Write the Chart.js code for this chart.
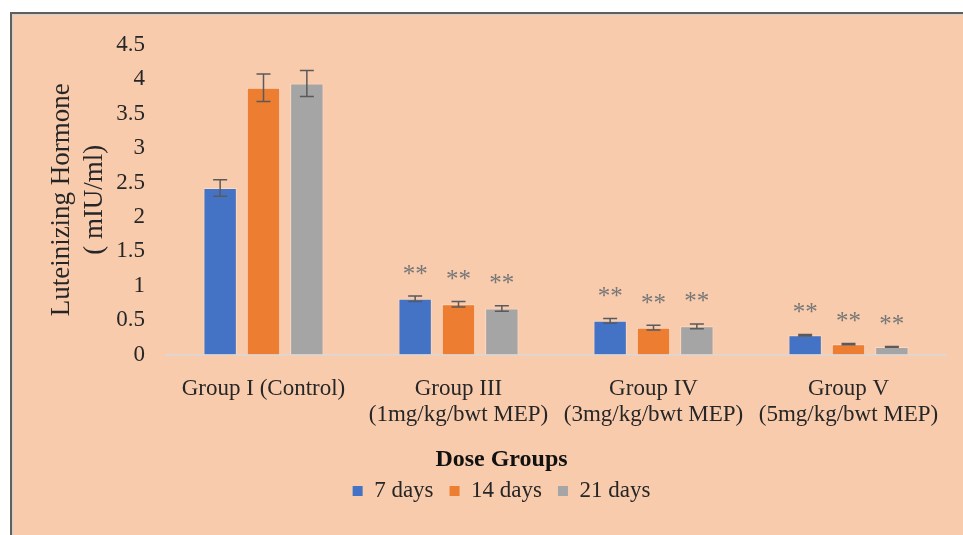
<!DOCTYPE html>
<html>
<head>
<meta charset="utf-8">
<script src="https://cdn.jsdelivr.net/npm/chart.js@4.4.1/dist/chart.umd.min.js"></script>
<style>
  html, body { margin: 0; padding: 0; background: #ffffff; overflow: hidden; width: 963px; height: 535px; }
  #frame {
    position: absolute; left: 10px; top: 12px; width: 1000px; height: 600px;
    background: #F8CBAD;
    border-left: 2px solid #5f5f5f; border-top: 2px solid #5f5f5f;
    box-shadow: inset 1px 1px 0 #cfcfcf;
  }
  #c { position: absolute; left: 0; top: 0; }
</style>
</head>
<body>
<div id="frame"></div>
<canvas id="c" width="1003" height="535"></canvas>
<script>
// Dose groups on the x axis (multi-line labels)
const groups = [
  ['Group I (Control)'],
  ['Group III', '(1mg/kg/bwt MEP)'],
  ['Group IV', '(3mg/kg/bwt MEP)'],
  ['Group V', '(5mg/kg/bwt MEP)']
];

// Series names
const seriesNames = ['7 days', '14 days', '21 days'];

// Luteinizing hormone means (mIU/ml)
const lh7 = [2.42, 0.81, 0.49, 0.28];
const lh14 = [3.88, 0.73, 0.39, 0.15];
const lh21 = [3.94, 0.67, 0.41, 0.11];

// Standard errors
const se7 = [0.12, 0.04, 0.035, 0.012];
const se14 = [0.20, 0.04, 0.035, 0.01];
const se21 = [0.19, 0.04, 0.035, 0.005];

// Significance marks above each bar
const sig7 = ['', '**', '**', '**'];
const sig14 = ['', '**', '**', '**'];
const sig21 = ['', '**', '**', '**'];

// Y axis ticks
const yMin = 0, yMax = 4.5, yStep = 0.5;

const colors = ['#4472C4', '#ED7D31', '#A5A5A5'];
const serif = "'Liberation Serif', 'Times New Roman', serif";
const textColor = '#262626';

const seriesValues = [lh7, lh14, lh21];
const seriesErrors = [se7, se14, se21];
const seriesMarks = [sig7, sig14, sig21];

const errorBarPlugin = {
  id: 'errorBars',
  afterDatasetsDraw(chart) {
    const ctx = chart.ctx;
    const y = chart.scales.y;
    ctx.save();
    chart.data.datasets.forEach((ds, di) => {
      const meta = chart.getDatasetMeta(di);
      meta.data.forEach((bar, i) => {
        const v = ds.data[i];
        const e = ds.errors[i];
        const top = y.getPixelForValue(v + e);
        const bot = y.getPixelForValue(v - e);
        const x = bar.x;
        ctx.strokeStyle = '#5a5a5a';
        ctx.lineWidth = 1.5;
        ctx.beginPath();
        ctx.moveTo(x, top); ctx.lineTo(x, bot);
        ctx.moveTo(x - 7, top); ctx.lineTo(x + 7, top);
        ctx.moveTo(x - 7, bot); ctx.lineTo(x + 7, bot);
        ctx.stroke();
        const mark = ds.marks[i];
        if (mark) {
          ctx.fillStyle = '#777777';
          ctx.font = '25px ' + serif;
          ctx.textAlign = 'center';
          ctx.textBaseline = 'middle';
          ctx.fillText(mark, x, top - 21);
        }
      });
    });
    ctx.restore();
  }
};

new Chart(document.getElementById('c'), {
  type: 'bar',
  data: {
    labels: groups,
    datasets: seriesNames.map((name, k) => ({
      label: name,
      data: seriesValues[k],
      errors: seriesErrors[k],
      marks: seriesMarks[k],
      backgroundColor: colors[k],
      borderColor: 'rgba(255,255,255,0.3)',
      borderWidth: 1,
      categoryPercentage: 0.667,
      barPercentage: 0.77,
      yAxisID: 'y'
    }))
  },
  options: {
    responsive: false,
    animation: false,
    devicePixelRatio: 1,
    layout: { padding: { top: 45, bottom: 22.5, left: 0, right: 0 } },
    scales: {
      x: {
        grid: { display: false },
        border: { display: true, color: '#D9D9D9', width: 1.5 },
        ticks: {
          color: textColor,
          font: { family: serif, size: 23, lineHeight: 1.15 },
          padding: 13,
          maxRotation: 0,
          autoSkip: false
        },
        afterFit(scale) { scale.height = 91; }
      },
      y: {
        min: yMin, max: yMax,
        grid: { display: false },
        border: { display: false },
        ticks: {
          stepSize: yStep,
          color: textColor,
          font: { family: serif, size: 23 },
          padding: 13,
          callback: (v) => String(Math.round(v * 10) / 10)
        },
        title: {
          display: true,
          text: ['Luteinizing Hormone', '( mIU/ml)'],
          color: textColor,
          font: { family: serif, size: 27, lineHeight: 1.2 },
          padding: { top: 46, bottom: 0 }
        },
        afterFit(scale) { scale.width = 166; }
      },
      yRight: {
        position: 'right',
        display: true,
        grid: { display: false },
        border: { display: false },
        ticks: { display: false },
        afterFit(scale) { scale.width = 57; }
      }
    },
    plugins: {
      tooltip: { enabled: false },
      legend: {
        position: 'bottom',
        labels: {
          boxWidth: 10,
          boxHeight: 10,
          padding: 16,
          color: textColor,
          font: { family: serif, size: 23 },
          generateLabels(chart) {
            const items = Chart.defaults.plugins.legend.labels.generateLabels(chart);
            items.forEach(it => { it.lineWidth = 0; it.strokeStyle = it.fillStyle; });
            return items;
          }
        },
        title: {
          display: true,
          text: 'Dose Groups',
          color: '#111111',
          font: { family: serif, size: 24, weight: 'bold', lineHeight: 0.5 },
          padding: { top: 2, bottom: 4 }
        }
      }
    }
  },
  plugins: [errorBarPlugin]
});
</script>
</body>
</html>
